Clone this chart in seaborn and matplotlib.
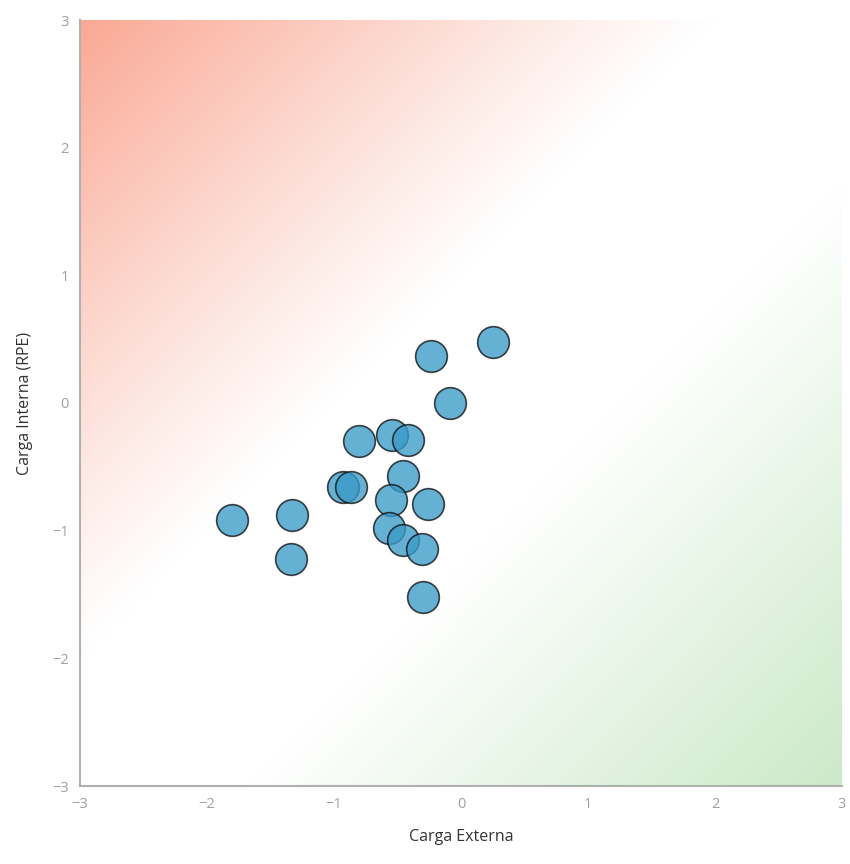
import numpy as np
import pandas as pd
import matplotlib
matplotlib.use("Agg")
import matplotlib.pyplot as plt
import seaborn as sns

carga_externa = [-1.80, -1.33, -1.34, -0.93, -0.87, -0.80, -0.54, -0.42, -0.46,
                 -0.55, -0.26, -0.57, -0.46, -0.31, -0.30, -0.24, -0.09, 0.25]
carga_interna = [-0.92, -0.88, -1.22, -0.66, -0.66, -0.30, -0.25, -0.29, -0.57,
                 -0.76, -0.79, -0.98, -1.07, -1.14, -1.52, 0.37, 0.00, 0.48]
ticks = [-3, -2, -1, 0, 1, 2, 3]

df = pd.DataFrame({"Carga Externa": carga_externa, "Carga Interna (RPE)": carga_interna})

sns.set_theme(style="white")
plt.rcParams['font.family'] = ['Open Sans', 'DejaVu Sans']

fig = plt.figure(figsize=(8.5, 8.64), dpi=100)
ax = fig.add_axes([80/850, 1-786/864, 762/850, 766/864])

# background gradient (red top-left, green bottom-right)
n = 400
gx, gy = np.meshgrid(np.linspace(-3, 3, n), np.linspace(3, -3, n))
d = gy - gx
red = np.clip((d - 1.0) / 5.0, 0, 1)[..., None] ** 1.1
green = np.clip((-d - 1.3) / 4.7, 0, 1)[..., None]
white = np.array([1.0, 1.0, 1.0])
red_c = np.array([250, 168, 148]) / 255
green_c = np.array([203, 233, 200]) / 255
img = white + red * (red_c - white) + green * (green_c - white)
ax.imshow(img, extent=[-3, 3, -3, 3], aspect='auto', zorder=0, interpolation='bilinear')

sns.scatterplot(data=df, x="Carga Externa", y="Carga Interna (RPE)", ax=ax,
                s=520, color="#3a9bc8", alpha=0.78, edgecolor="#111111",
                linewidth=1.2, zorder=3)

ax.set_xlim(-3, 3)
ax.set_ylim(-3, 3)
ax.set_xticks(ticks)
ax.set_yticks(ticks)
labels = ["\u2212" + str(-t) if t < 0 else str(t) for t in ticks]
ax.set_xticklabels(labels)
ax.set_yticklabels(labels)
ax.tick_params(axis='both', length=0, labelsize=10.5, labelcolor="#a0a0a0", pad=8)
for s in ["top", "right"]:
    ax.spines[s].set_visible(False)
for s in ["left", "bottom"]:
    ax.spines[s].set_color("#b0b0b0")
    ax.spines[s].set_linewidth(1.5)
ax.set_xlabel("Carga Externa", fontsize=11.5, color="#333333", labelpad=12)
ax.set_ylabel("Carga Interna (RPE)", fontsize=11.5, color="#333333", labelpad=14)

fig.savefig("out.png", dpi=100)
